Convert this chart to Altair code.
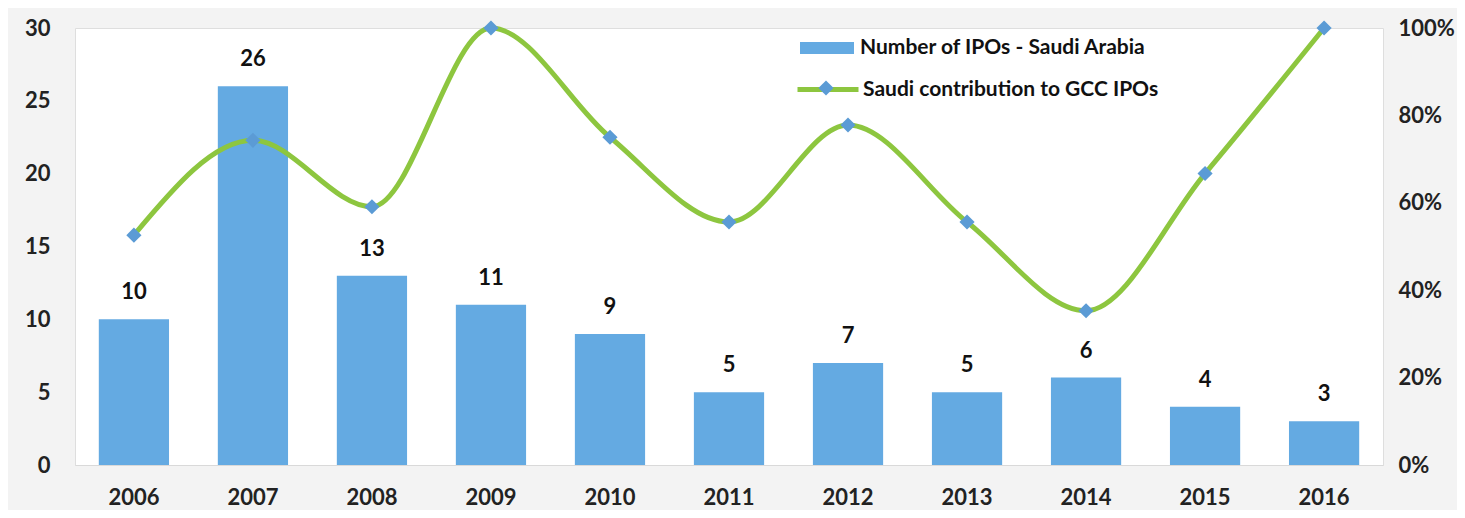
import altair as alt
import pandas as pd

years = ["2006", "2007", "2008", "2009", "2010", "2011", "2012", "2013", "2014", "2015", "2016"]
ipos = [10, 26, 13, 11, 9, 5, 7, 5, 6, 4, 3]
share = [52.6, 74.3, 59.1, 100, 75.0, 55.6, 77.8, 55.6, 35.3, 66.7, 100]

bar_name = "Number of IPOs - Saudi Arabia"
line_name = "Saudi contribution to GCC IPOs"

df = pd.DataFrame({
    "year": years,
    "ipos": ipos,
    "share": [s / 100 for s in share],
    "s1": bar_name,
    "s2": line_name,
    "s3": line_name,
})

FONT = "Lato"
BLUE = "#64aae2"
GREEN = "#8dc63f"
DIAMOND = "#5b9bd5"

base = alt.Chart(df).encode(
    x=alt.X("year:N", title=None, sort=years,
            scale=alt.Scale(paddingInner=0.41, paddingOuter=0.2),
            axis=alt.Axis(labelAngle=0, labelFont=FONT, labelFontSize=22, labelFontWeight="bold",
                          labelColor="#222222", ticks=False, domain=True, domainColor="#d9d9d9",
                          labelPadding=22))
)

bars = base.mark_bar(color=BLUE).encode(
    y=alt.Y("ipos:Q", title=None, scale=alt.Scale(domain=[0, 30]),
            axis=alt.Axis(values=[0, 5, 10, 15, 20, 25, 30], grid=False, ticks=False, domain=False,
                          labelFont=FONT, labelFontSize=22, labelFontWeight="bold",
                          labelColor="#222222", labelPadding=25)),
    fill=alt.Fill("s1:N", scale=alt.Scale(range=[BLUE]),
                  legend=alt.Legend(title=None, orient="none", legendX=725, legendY=-7, padding=0,
                                    symbolType="M-1,-0.22H1V0.22H-1Z", symbolSize=2916,
                                    symbolStrokeWidth=0, labelFont=FONT, labelFontSize=21,
                                    labelFontWeight="bold", labelColor="#111111", labelOffset=6,
                                    labelLimit=0)),
)

labels = base.mark_text(font=FONT, fontSize=22, fontWeight="bold", color="#111111",
                        baseline="alphabetic", dy=-20).encode(
    y=alt.Y("ipos:Q", scale=alt.Scale(domain=[0, 30])),
    text=alt.Text("ipos:Q"),
)

left = alt.layer(bars, labels)

line = base.mark_line(strokeWidth=5, interpolate="monotone").encode(
    y=alt.Y("share:Q", title=None, scale=alt.Scale(domain=[0, 1]),
            axis=alt.Axis(orient="right", values=[0, 0.2, 0.4, 0.6, 0.8, 1.0], format=".0%",
                          grid=False, ticks=False, domain=False,
                          labelFont=FONT, labelFontSize=22, labelFontWeight="bold",
                          labelColor="#222222", labelPadding=15)),
    stroke=alt.Stroke("s2:N", scale=alt.Scale(range=[GREEN]),
                      legend=alt.Legend(title=None, orient="none", legendX=720, legendY=28.5, padding=0,
                                        symbolType="M-1,0H1", symbolSize=3721, symbolStrokeWidth=5,
                                        labelFont=FONT, labelFontSize=21, labelFontWeight="bold",
                                        labelColor="#111111", labelOffset=2, labelLimit=0)),
)

points = base.mark_point(filled=True, size=230, color=DIAMOND, opacity=1).encode(
    y=alt.Y("share:Q", scale=alt.Scale(domain=[0, 1])),
    shape=alt.Shape("s3:N", scale=alt.Scale(range=["diamond"]),
                    legend=alt.Legend(title=None, orient="none", legendX=743, legendY=52, padding=0,
                                      symbolSize=230, symbolFillColor=DIAMOND, symbolStrokeWidth=0,
                                      labelExpr="''", labelFontSize=1, labelLimit=0)),
)

right = alt.layer(line, points)

chart = alt.layer(left, right).resolve_scale(y="independent").properties(
    width=1308, height=437,
    background="#f3f3f3",
    autosize=alt.AutoSizeParams(type="none"),
    padding={"left": 67, "top": 20, "right": 74, "bottom": 45},
).configure_view(fill="white", stroke="#dedede", strokeWidth=1)

chart.save("out.html", embed_options={"renderer": "svg", "actions": False})
